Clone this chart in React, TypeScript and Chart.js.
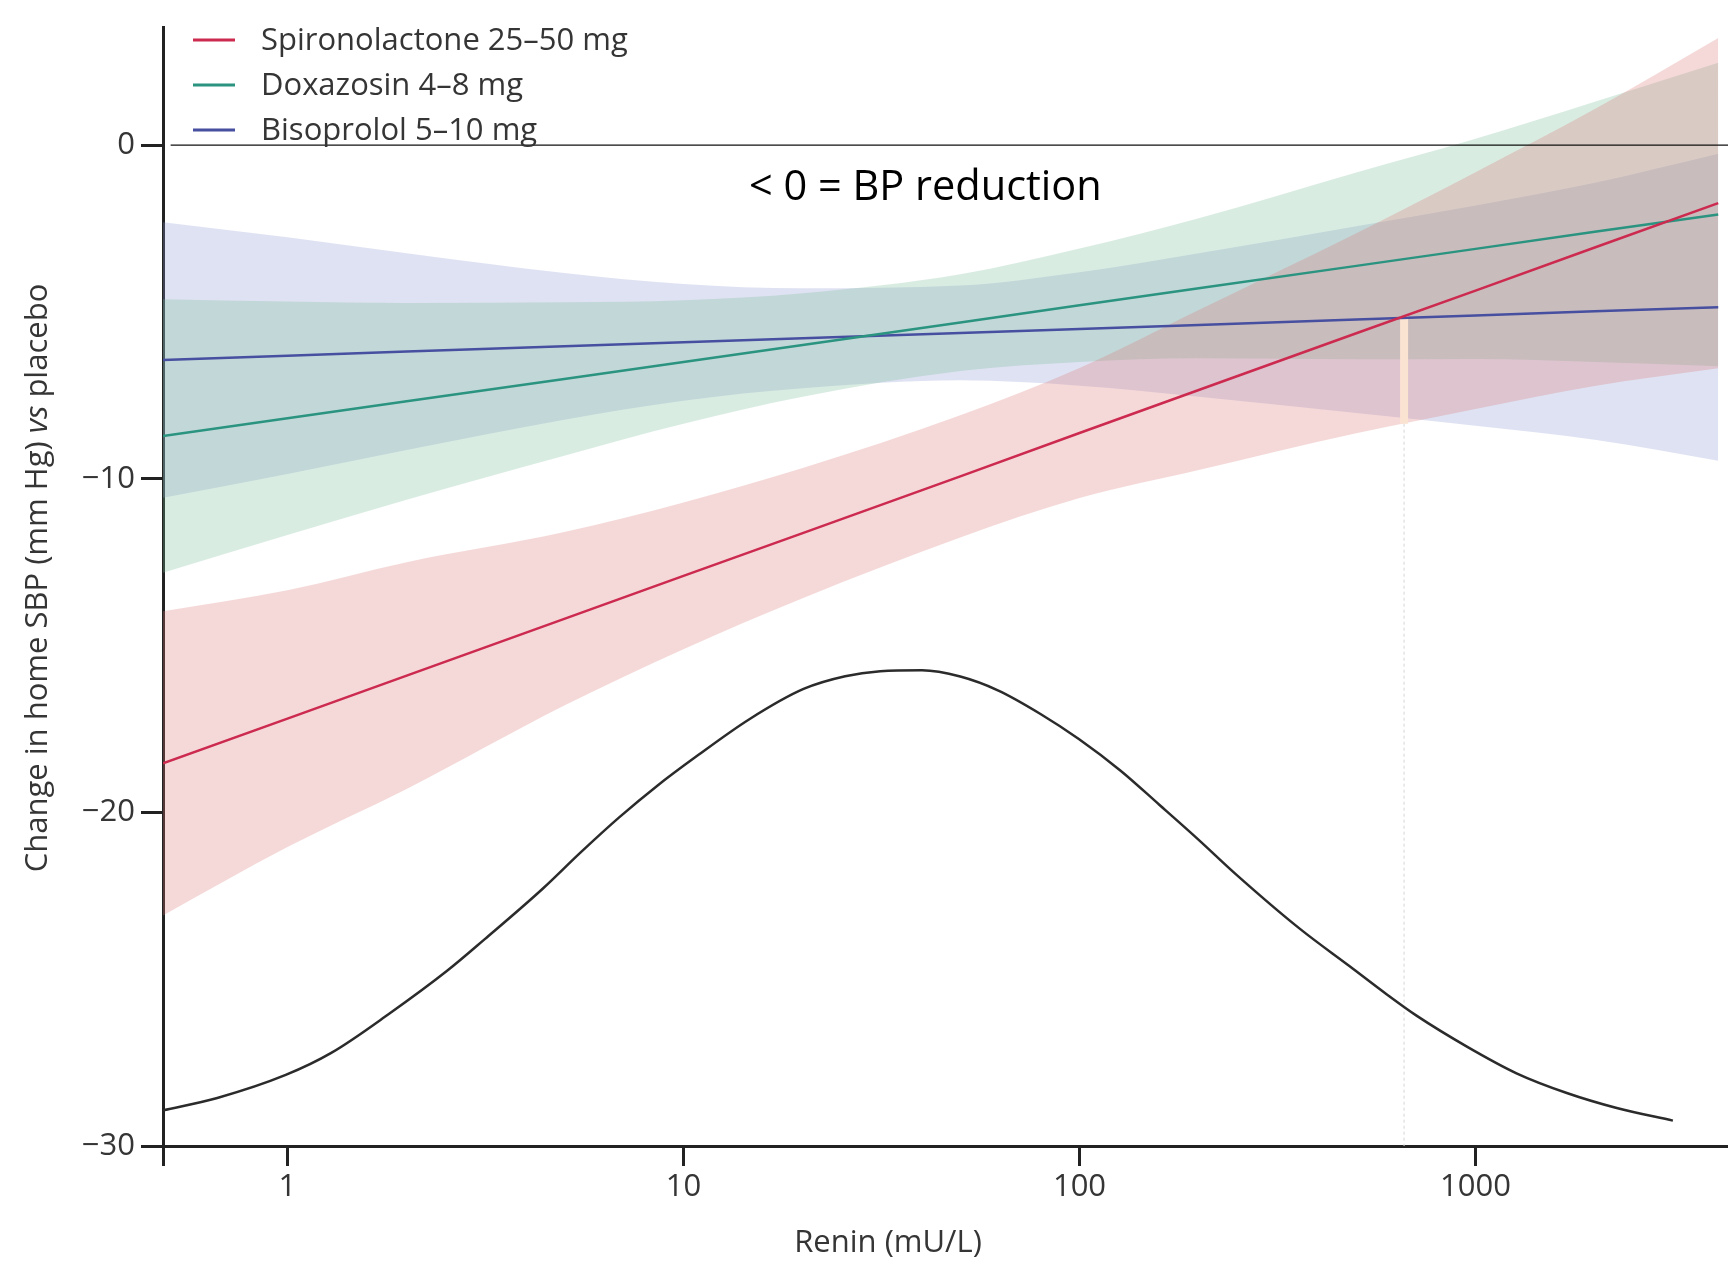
import React, { useEffect, useRef } from 'react';
import { Chart, registerables } from 'chart.js';

Chart.register(...registerables);

// ---- data ----
const renin = [0.485, 1, 2, 5, 10, 20, 50, 100, 200, 500, 1000, 2000, 4100];

const spiroMean = [-18.53, -17.19, -15.9, -14.2, -12.91, -11.63, -9.93, -8.63, -7.34, -5.64, -4.36, -3.07, -1.74];
const spiroUpper = [-13.97, -13.34, -12.5, -11.6, -10.71, -9.68, -8.1, -6.68, -4.94, -2.64, -0.81, 1.08, 3.21];
const spiroLower = [-23.09, -21.04, -19.3, -16.8, -15.11, -13.58, -11.76, -10.58, -9.74, -8.64, -7.91, -7.22, -6.69];

const doxaMean = [-8.72, -8.19, -7.68, -7.01, -6.5, -5.99, -5.32, -4.8, -4.29, -3.62, -3.11, -2.6, -2.08];
const doxaUpper = [-4.62, -4.69, -4.73, -4.71, -4.65, -4.44, -3.87, -3.1, -2.19, -0.82, 0.19, 1.3, 2.47];
const doxaLower = [-12.82, -11.69, -10.63, -9.31, -8.35, -7.54, -6.77, -6.5, -6.39, -6.42, -6.41, -6.5, -6.63];

const bisoMean = [-6.44, -6.31, -6.19, -6.03, -5.91, -5.79, -5.63, -5.51, -5.39, -5.23, -5.11, -4.98, -4.86];
const bisoUpper = [-2.31, -2.76, -3.24, -3.83, -4.16, -4.29, -4.21, -3.81, -3.24, -2.43, -1.81, -1.13, -0.26];
const bisoLower = [-10.57, -9.86, -9.14, -8.23, -7.66, -7.29, -7.05, -7.21, -7.54, -8.03, -8.41, -8.83, -9.46];

const densityRenin = [0.485, 0.665, 0.99, 1.29, 1.81, 2.53, 3.15, 4.41, 5.5, 6.88, 8.59, 10.7, 14.7, 20.1, 25.6, 31.4, 40, 50, 62.4, 79.7, 99.6, 127, 159, 199, 248, 361, 482, 596, 711, 951, 1269, 1700, 2273, 3150];
const densityValue = [-28.93, -28.56, -27.87, -27.21, -26.03, -24.75, -23.8, -22.29, -21.2, -20.15, -19.2, -18.35, -17.2, -16.3, -15.92, -15.77, -15.74, -15.93, -16.35, -17.05, -17.8, -18.75, -19.77, -20.8, -21.85, -23.5, -24.62, -25.45, -26.1, -27.02, -27.82, -28.41, -28.86, -29.24];

const zeroRenin = [0.507, 4340];
const zeroValue = [0, 0];
const markerRenin = [660, 660];
const markerValue = [-5.12, -8.35];
const markerDotValue = [-8.35, -30];

const xTicks = [1, 10, 100, 1000];
const yTicks = [-30, -20, -10, 0];
const legendLabels = ['Spironolactone 25–50 mg', 'Doxazosin 4–8 mg', 'Bisoprolol 5–10 mg'];
const lineColors = ['#cc2a4f', '#2b9480', '#474fa0'];
const bandColors = ['rgba(220,120,120,0.28)', 'rgba(120,185,150,0.28)', 'rgba(140,150,210,0.28)'];

const X_MIN = 0.485;
const X_MAX = 4340;
const FONT = '"Open Sans", "Noto Sans", sans-serif';
const TEXT = '#353535';

const pts = (xs: number[], ys: number[]) => xs.map((x, i) => ({ x, y: ys[i] }));

export default function App() {
  const ref = useRef<HTMLCanvasElement>(null);

  useEffect(() => {
    const canvas = ref.current!;
    const overlay = {
      id: 'overlayText',
      afterDraw(chart: any) {
        const ctx = chart.ctx as CanvasRenderingContext2D;
        ctx.save();
        // legend
        const rows = [40, 85, 130];
        legendLabels.forEach((lab, i) => {
          ctx.strokeStyle = lineColors[i];
          ctx.lineWidth = 3;
          ctx.beginPath();
          ctx.moveTo(193, rows[i]);
          ctx.lineTo(235, rows[i]);
          ctx.stroke();
          ctx.fillStyle = TEXT;
          ctx.font = `31px ${FONT}`;
          ctx.textBaseline = 'middle';
          ctx.textAlign = 'left';
          ctx.fillText(lab, 261, rows[i] + 1);
        });
        // annotation
        ctx.fillStyle = '#000';
        ctx.font = `41.5px ${FONT}`;
        ctx.textBaseline = 'alphabetic';
        ctx.textAlign = 'left';
        ctx.fillText('< 0 = BP reduction', 749, 200);
        // x title
        ctx.fillStyle = TEXT;
        ctx.font = `31px ${FONT}`;
        ctx.textBaseline = 'middle';
        ctx.textAlign = 'center';
        ctx.fillText('Renin (mU/L)', 888, 1243);
        // y title (with italic "vs")
        const parts = [
          { t: 'Change in home SBP (mm Hg) ', it: false },
          { t: 'vs', it: true },
          { t: ' placebo', it: false },
        ];
        let total = 0;
        const widths = parts.map((p) => {
          ctx.font = `${p.it ? 'italic ' : ''}31px ${FONT}`;
          const w = ctx.measureText(p.t).width;
          total += w;
          return w;
        });
        ctx.translate(38, 578);
        ctx.rotate(-Math.PI / 2);
        ctx.textAlign = 'left';
        let x = -total / 2;
        parts.forEach((p, i) => {
          ctx.font = `${p.it ? 'italic ' : ''}31px ${FONT}`;
          ctx.fillText(p.t, x, 0);
          x += widths[i];
        });
        ctx.restore();
      },
    };

    const line = (data: any, color: string, width: number, extra: any = {}) => ({
      data,
      borderColor: color,
      borderWidth: width,
      pointRadius: 0,
      fill: false,
      tension: 0,
      ...extra,
    });
    const smooth = { cubicInterpolationMode: 'monotone' };

    const datasets: any[] = [
      line(pts(renin, spiroMean), lineColors[0], 2.5), // 0
      line(pts(renin, doxaMean), lineColors[1], 2.5), // 1
      line(pts(renin, bisoMean), lineColors[2], 2.5), // 2
      line(pts(densityRenin, densityValue), '#2b2b2b', 2.5, smooth), // 3
      line(pts(zeroRenin, zeroValue), '#111', 1.3), // 4
      line(pts(markerRenin, markerValue), '#fbe3d2', 8, { borderCapStyle: 'butt' }), // 5
      line(pts(markerRenin, markerDotValue), 'rgba(215,215,215,0.7)', 1.5, { borderDash: [3, 3] }), // 6
      line(pts(renin, spiroUpper), 'rgba(0,0,0,0)', 0, { fill: 8, backgroundColor: bandColors[0], ...smooth }), // 7
      line(pts(renin, spiroLower), 'rgba(0,0,0,0)', 0, smooth), // 8
      line(pts(renin, doxaUpper), 'rgba(0,0,0,0)', 0, { fill: 10, backgroundColor: bandColors[1], ...smooth }), // 9
      line(pts(renin, doxaLower), 'rgba(0,0,0,0)', 0, smooth), // 10
      line(pts(renin, bisoUpper), 'rgba(0,0,0,0)', 0, { fill: 12, backgroundColor: bandColors[2], ...smooth }), // 11
      line(pts(renin, bisoLower), 'rgba(0,0,0,0)', 0, smooth), // 12
    ];

    const chart = new Chart(canvas, {
      type: 'line',
      data: { datasets },
      options: {
        responsive: false,
        maintainAspectRatio: false,
        animation: false,
        devicePixelRatio: 1,
        layout: { padding: { top: 27, left: 0, right: 0, bottom: 0 } },
        plugins: { legend: { display: false }, tooltip: { enabled: false } },
        elements: { point: { radius: 0 } },
        scales: {
          x: {
            type: 'logarithmic',
            position: 'bottom',
            min: X_MIN,
            max: X_MAX,
            afterBuildTicks: (s: any) => {
              s.ticks = [X_MIN, ...xTicks].map((v) => ({ value: v }));
            },
            afterFit: (s: any) => {
              s.height = 118;
            },
            ticks: {
              autoSkip: false,
              maxRotation: 0,
              padding: 3,
              color: TEXT,
              font: { family: FONT, size: 31 },
              callback: (v: any) => (xTicks.includes(Number(v)) ? String(v) : ''),
            },
            grid: { drawOnChartArea: false, drawTicks: true, tickLength: 20, tickWidth: 3, tickColor: '#222' },
            border: { display: true, width: 3, color: '#222' },
            title: { display: false },
          },
          y: {
            type: 'linear',
            min: -30,
            max: 3.54,
            afterBuildTicks: (s: any) => {
              s.ticks = yTicks.map((v) => ({ value: v }));
            },
            afterFit: (s: any) => {
              s.width = 163;
            },
            ticks: {
              padding: 6,
              color: TEXT,
              font: { family: FONT, size: 31 },
              callback: (v: any) => (Number(v) < 0 ? '\u2212' + Math.abs(Number(v)) : String(v)),
            },
            grid: { drawOnChartArea: false, drawTicks: true, tickLength: 22, tickWidth: 3, tickColor: '#222' },
            border: { display: true, width: 3, color: '#222' },
            title: { display: false },
          },
        },
      },
      plugins: [overlay],
    } as any);

    return () => chart.destroy();
  }, []);

  return (
    <div style={{ position: 'fixed', left: 0, top: 0, width: 1728, height: 1264, background: '#fff' }}>
      <canvas ref={ref} width={1728} height={1264} style={{ display: 'block', width: 1728, height: 1264 }} />
    </div>
  );
}
